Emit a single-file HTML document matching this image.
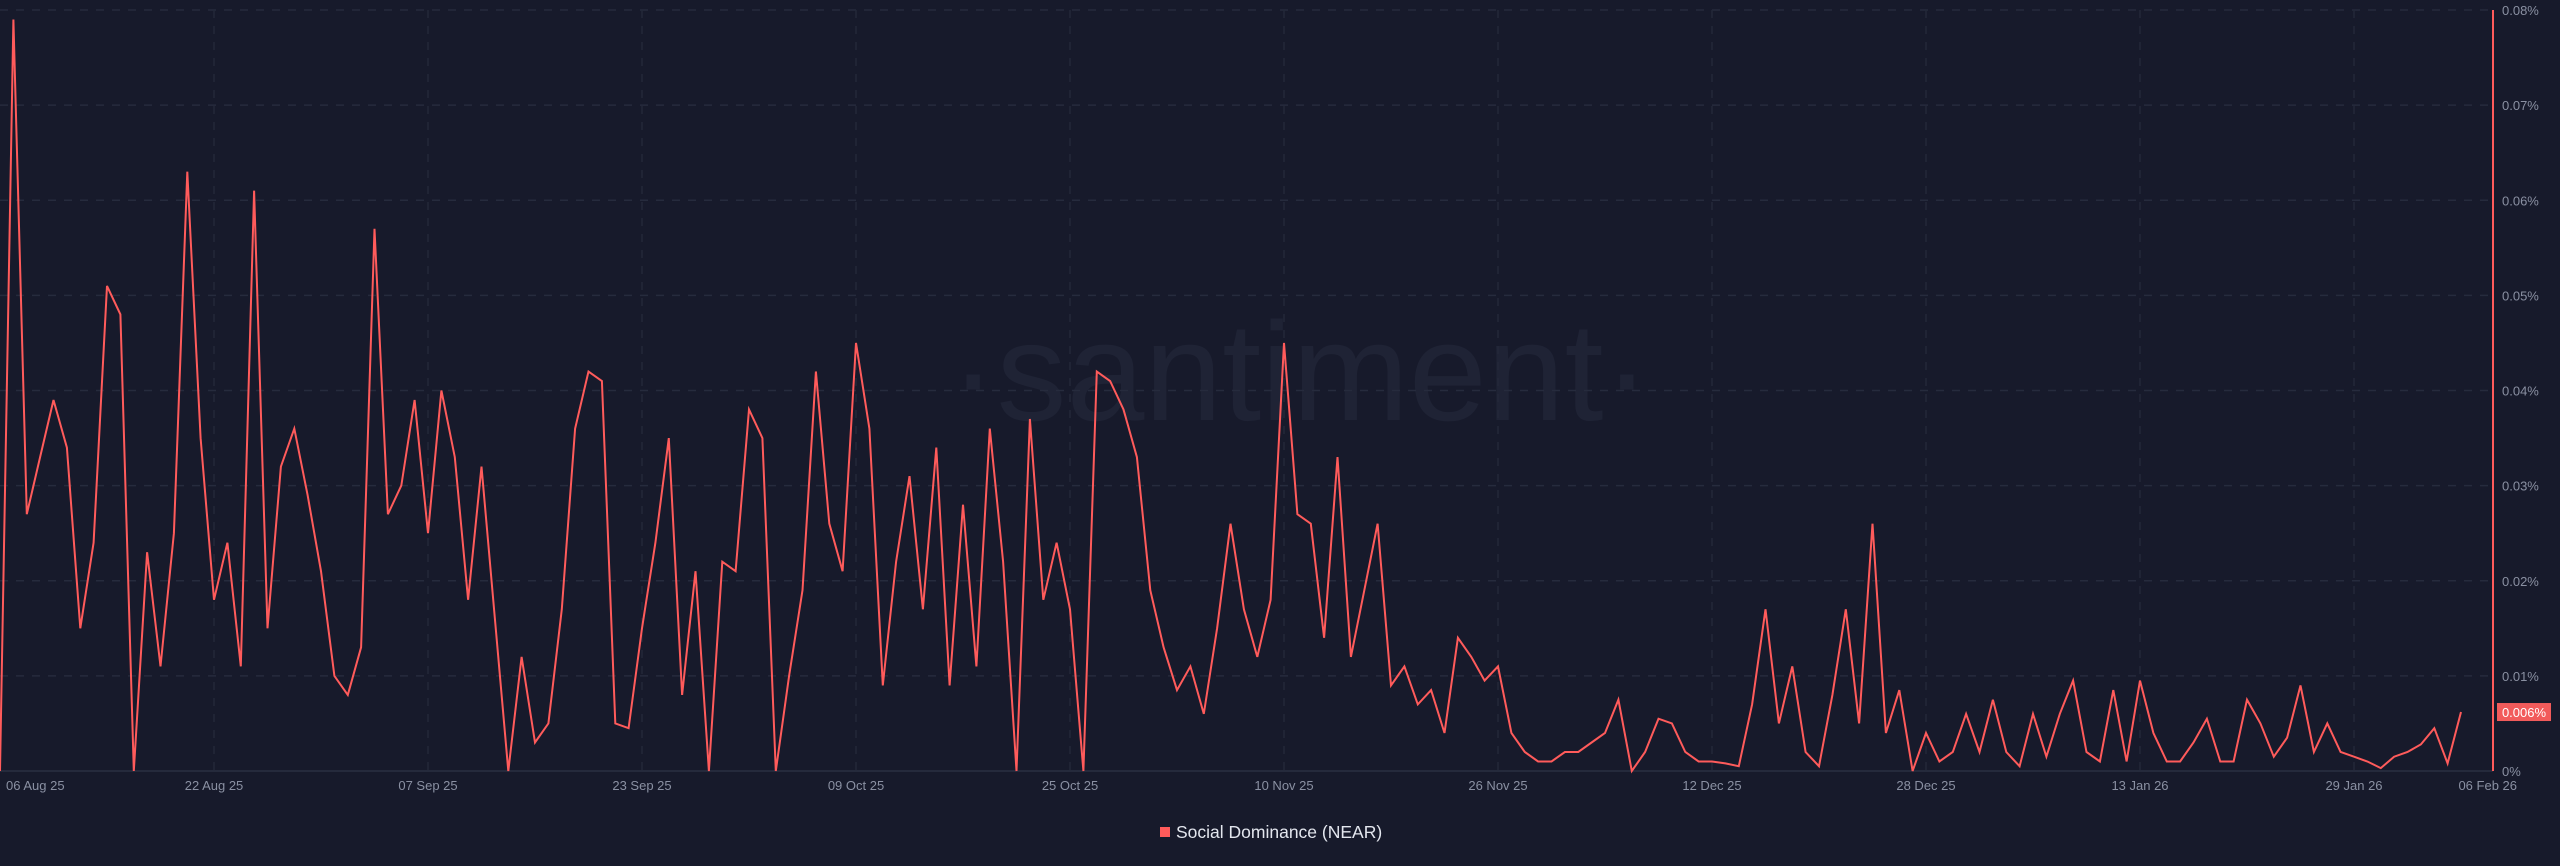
<!DOCTYPE html>
<html><head><meta charset="utf-8">
<style>
html,body{margin:0;padding:0;background:#171a2b;}
body{width:2560px;height:866px;overflow:hidden;font-family:"Liberation Sans",sans-serif;}
svg{display:block;}
</style></head>
<body>
<svg id="chart" width="2560" height="866" viewBox="0 0 2560 866" xmlns="http://www.w3.org/2000/svg">
<rect x="0" y="0" width="2560" height="866" fill="#171a2b"/>
<text x="1300" y="420" text-anchor="middle" font-size="140" font-weight="300" fill="#1f2335" font-family="Liberation Sans, sans-serif">·santiment·</text>
<g id="grid"></g>
<g id="xlabels"></g>
<g id="ylabels"></g>
<g id="series"></g>
<line x1="2493" y1="10" x2="2493" y2="771" stroke="#ff5b5b" stroke-width="2"/>
<g>
<rect id="badgeRect" x="2497" y="704" width="54" height="18" fill="#f25b5b"/>
<text id="badgeText" x="2524" y="718" text-anchor="middle" font-size="13" fill="#ffffff">0.006%</text>
</g>
<g>
<rect x="1160" y="827" width="10" height="10" fill="#ff5b5b"/>
<text x="1176" y="838" font-size="17.5" fill="#e3e6ee">Social Dominance (NEAR)</text>
</g>
</svg>
<script>
const values = [0,0.079,0.027,0.033,0.039,0.034,0.015,0.024,0.051,0.048,
0,0.023,0.011,0.025,0.063,0.035,0.018,0.024,0.011,0.061,
0.015,0.032,0.036,0.029,0.021,0.010,0.008,0.013,0.057,0.027,
0.030,0.039,0.025,0.040,0.033,0.018,0.032,0.016,0,0.012,
0.003,0.005,0.017,0.036,0.042,0.041,0.005,0.0045,0.015,0.024,
0.035,0.008,0.021,0,0.022,0.021,0.038,0.035,0,0.010,
0.019,0.042,0.026,0.021,0.045,0.036,0.009,0.022,0.031,0.017,
0.034,0.009,0.028,0.011,0.036,0.022,0,0.037,0.018,0.024,
0.017,0,0.042,0.041,0.038,0.033,0.019,0.013,0.0085,0.011,
0.006,0.015,0.026,0.017,0.012,0.018,0.045,0.027,0.026,0.014,
0.033,0.012,0.019,0.026,0.009,0.011,0.007,0.0085,0.004,0.014,
0.012,0.0095,0.011,0.004,0.002,0.001,0.001,0.002,0.002,0.003,
0.004,0.0075,0,0.002,0.0055,0.005,0.002,0.001,0.001,0.0008,
0.0005,0.007,0.017,0.005,0.011,0.002,0.0005,0.008,0.017,0.005,
0.026,0.004,0.0085,0,0.004,0.001,0.002,0.006,0.002,0.0075,
0.002,0.0005,0.006,0.0015,0.006,0.0095,0.002,0.001,0.0085,0.001,
0.0095,0.004,0.001,0.001,0.003,0.0055,0.001,0.001,0.0075,0.005,
0.0015,0.0035,0.009,0.002,0.005,0.002,0.0015,0.001,0.0003,0.0015,
0.002,0.0028,0.0045,0.0008,0.0062];
const xTickLabels = ["06 Aug 25","22 Aug 25","07 Sep 25","23 Sep 25","09 Oct 25","25 Oct 25","10 Nov 25","26 Nov 25","12 Dec 25","28 Dec 25","13 Jan 26","29 Jan 26","06 Feb 26"];
const xTickDays = [0,16,32,48,64,80,96,112,128,144,160,176,184];
const yTicks = [0,0.01,0.02,0.03,0.04,0.05,0.06,0.07,0.08];
const yTickLabels = ["0%","0.01%","0.02%","0.03%","0.04%","0.05%","0.06%","0.07%","0.08%"];

const NS="http://www.w3.org/2000/svg";
const X0=0, PXDAY=13.375, Y0=771, YTOP=10, YMAX=0.08;
function xScale(d){return X0+d*PXDAY;}
function yScale(v){return Y0-(v/YMAX)*(Y0-YTOP);}
function mk(tag,attrs,parent){const e=document.createElementNS(NS,tag);for(const k in attrs)e.setAttribute(k,attrs[k]);parent.appendChild(e);return e;}

const grid=document.getElementById('grid');
yTicks.forEach((t,i)=>{
  const l=mk('line',{x1:0,x2:2493,y1:yScale(t),y2:yScale(t),stroke:i===0?'#2a2f42':'#262b3d','stroke-width':1.5,'stroke-dasharray':i===0?'none':'8 8'},grid);
  
  
  const tx=mk('text',{x:2502,y:yScale(t)+5,'font-size':13,fill:'#8a90a2'},document.getElementById('ylabels'));
  tx.textContent=yTickLabels[i];
  
  
});
xTickDays.forEach((d,i)=>{
  if(i>0 && i<xTickDays.length-1){
    const l=mk('line',{x1:xScale(d),x2:xScale(d),y1:YTOP,y2:Y0,stroke:'#232839','stroke-width':1.5,'stroke-dasharray':'8 8'},grid);
    
    
  }
  let anchor='middle',x=xScale(d);
  if(i===0){anchor='start';x=6;}
  if(i===xTickDays.length-1){anchor='end';x=2517;}
  const tx=mk('text',{x:x,y:790,'font-size':13,fill:'#8a90a2','text-anchor':anchor},document.getElementById('xlabels'));
  tx.textContent=xTickLabels[i];
  
  
});
const pts=values.map((v,i)=>xScale(i).toFixed(1)+','+yScale(v).toFixed(1)).join(' ');
const pl=mk('polyline',{points:pts,fill:'none',stroke:'#ff5b5b','stroke-width':2,'stroke-linejoin':'miter'},document.getElementById('series'));


const last=values[values.length-1];
document.getElementById('badgeRect').setAttribute('y',yScale(last)-9);
document.getElementById('badgeText').setAttribute('y',yScale(last)+5);
document.getElementById('badgeText').textContent=(Math.round(last*1000)/1000)+'%';
</script>
</body></html>
